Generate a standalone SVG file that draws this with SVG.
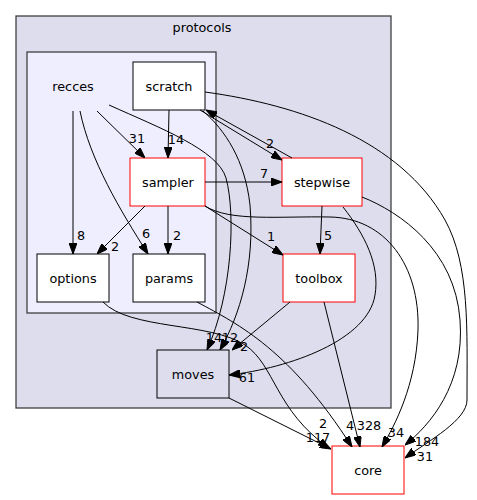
<svg xmlns="http://www.w3.org/2000/svg" width="477" height="500" viewBox="0 0 477 500">
<defs>
<marker id="ah" markerUnits="userSpaceOnUse" viewBox="0 0 11 8" refX="11" refY="4" markerWidth="11" markerHeight="8" orient="auto">
<path d="M0,0 L11,4 L0,8 z" fill="#000" stroke="#000" stroke-width="1"/>
</marker>
</defs>
<style>
text{font-family:"DejaVu Sans","Liberation Sans",sans-serif;font-size:12.8px;fill:#000}
.nt{text-anchor:middle}
.el{text-anchor:middle}
.node{fill:#fff;stroke:#000;stroke-width:1}
.red{fill:#fff;stroke:#ff0000;stroke-width:1}
.e{fill:none;stroke:#000;stroke-width:1;marker-end:url(#ah)}
</style>
<rect width="477" height="500" fill="#fff"/>
<g id="cluster_protocols">
<rect x="16" y="16" width="375" height="392" fill="#ddddee" stroke="#404040" stroke-width="1.3"/>
<text x="202" y="32" class="nt">protocols</text>
</g>
<g id="cluster_recces">
<rect x="27" y="52" width="189" height="261" fill="#eeeeff" stroke="#404040" stroke-width="1.3"/>
<text x="73" y="90.5" class="nt">recces</text>
</g>
<g id="node_scratch"><rect x="133" y="62" width="72" height="48" class="node"/><text x="169" y="90.5" class="nt">scratch</text></g>
<g id="node_sampler"><rect x="130" y="158" width="75" height="48" class="red"/><text x="168" y="186.5" class="nt">sampler</text></g>
<g id="node_options"><rect x="37" y="254" width="72" height="48" class="node"/><text x="73" y="282.5" class="nt">options</text></g>
<g id="node_params"><rect x="133" y="254" width="72" height="48" class="node"/><text x="169" y="282.5" class="nt">params</text></g>
<g id="node_stepwise"><rect x="282" y="158" width="80" height="48" class="red"/><text x="322" y="186.5" class="nt">stepwise</text></g>
<g id="node_toolbox"><rect x="283" y="254" width="72" height="48" class="red"/><text x="319" y="282.5" class="nt">toolbox</text></g>
<g id="node_moves"><rect x="157" y="350" width="72" height="48" fill="#ddddee" stroke="#000" stroke-width="1"/><text x="193" y="378.5" class="nt">moves</text></g>
<g id="node_core"><rect x="332" y="446" width="72" height="48" class="red"/><text x="368" y="474.5" class="nt">core</text></g>
<g id="edges">
<path class="e" d="M73,111 L73,254"/>
<path class="e" d="M80,111 C90,160 120,210 148,254"/>
<path class="e" d="M97,111 L145,158"/>
<path class="e" d="M169,110 L168,158"/>
<path class="e" d="M109,105 C160,128 218,150 226,178 C236,215 232,295 207,350"/>
<path class="e" d="M203,111 C225,130 245,160 250,205 C255,265 240,315 220,350"/>
<path class="e" d="M290,302 L232,350"/>
<path class="e" d="M200,110 L282,160"/>
<path class="e" d="M292,158 L206,110"/>
<path class="e" d="M205,182 L282,182"/>
<path class="e" d="M205,206 L283,255"/>
<path class="e" d="M322,206 L320,254"/>
<path class="e" d="M145,206 L97,254"/>
<path class="e" d="M168,206 L168,254"/>
<path class="e" d="M343,207 C365,235 380,265 375,295 C368,340 290,368 229,375"/>
<path class="e" d="M103,302 C130,330 210,322 245,345 C275,365 275,410 329,448"/>
<path class="e" d="M197,302 C240,325 290,350 352,447"/>
<path class="e" d="M324,302 L360,447"/>
<path class="e" d="M229,398 L331,449"/>
<path class="e" d="M205,206 C230,222 280,216 330,217 C385,218 420,265 418,330 C416,385 395,425 382,447"/>
<path class="e" d="M362,197 C400,212 455,250 460,320 C465,385 430,425 405,445"/>
<path class="e" d="M205,92 C300,105 400,140 445,220 C470,265 467,330 467,400 C467,420 430,440 405,458"/>
<text x="81" y="240" class="el">8</text>
<text x="146" y="238" class="el">6</text>
<text x="137" y="143" class="el">31</text>
<text x="176" y="144" class="el">14</text>
<text x="270" y="148" class="el">2</text>
<text x="264" y="178" class="el">7</text>
<text x="271" y="241" class="el">1</text>
<text x="328" y="240" class="el">5</text>
<text x="115" y="251" class="el">2</text>
<text x="177" y="240" class="el">2</text>
<text x="247" y="382" class="el">61</text>
<text x="214" y="342" class="el">14</text>
<text x="230" y="342" class="el">12</text>
<text x="244" y="351" class="el">2</text>
<text x="323" y="428" class="el">2</text>
<text x="318" y="442" class="el">117</text>
<text x="350" y="430" class="el">4</text>
<text x="369" y="430" class="el">328</text>
<text x="396" y="437" class="el">34</text>
<text x="427" y="446" class="el">184</text>
<text x="425" y="461" class="el">31</text>
</g>
</svg>
